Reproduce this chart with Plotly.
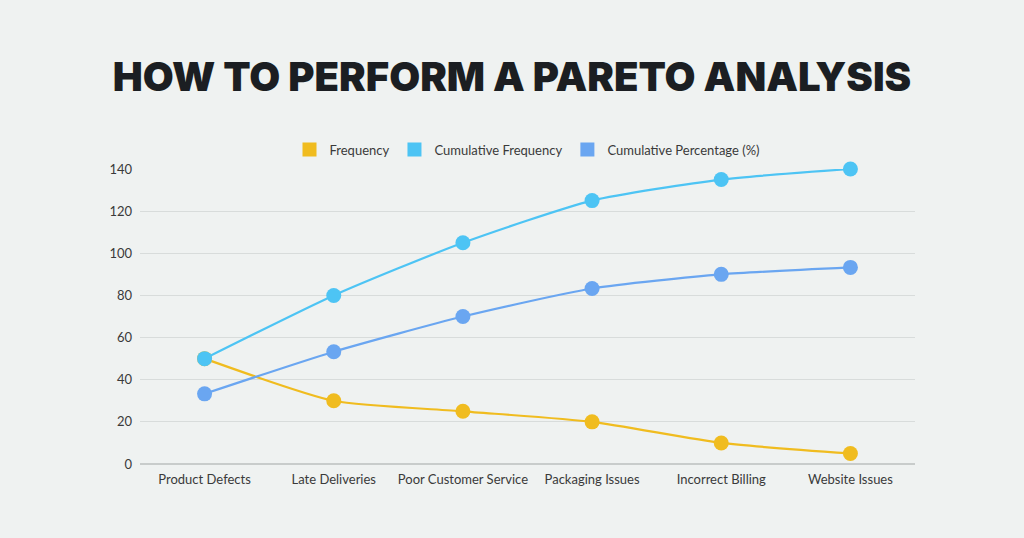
import plotly.graph_objects as go

categories = ["Product Defects", "Late Deliveries", "Poor Customer Service",
              "Packaging Issues", "Incorrect Billing", "Website Issues"]
frequency = [50, 30, 25, 20, 10, 5]
cumulative_frequency = [50, 80, 105, 125, 135, 140]
cumulative_percentage = [33.3, 53.3, 70, 83.3, 90, 93.3]
y_ticks = [0, 20, 40, 60, 80, 100, 120, 140]

series = [
    ("Frequency", frequency, "#F0BC1F"),
    ("Cumulative Frequency", cumulative_frequency, "#4DC4F4"),
    ("Cumulative Percentage (%)", cumulative_percentage, "#6AA6F1"),
]

fig = go.Figure()
for name, vals, color in series:
    fig.add_trace(go.Scatter(
        x=categories, y=vals, mode="lines+markers", name=name,
        line=dict(color=color, width=2.2, shape="spline", smoothing=0.6),
        marker=dict(color=color, size=15),
        showlegend=False, cliponaxis=False,
    ))
for name, vals, color in series:
    fig.add_trace(go.Scatter(
        x=[None], y=[None], mode="markers", name=name,
        marker=dict(color=color, size=14, symbol="square"),
        showlegend=True,
    ))

fig.update_layout(
    width=1024, height=538,
    paper_bgcolor="#EFF2F1", plot_bgcolor="#EFF2F1",
    margin=dict(l=140, r=109, t=169, b=74),
    title=dict(text="HOW TO PERFORM A PARETO ANALYSIS", x=0.5, xanchor="center",
               y=0.857, yanchor="middle",
               font=dict(family="Inter", size=40, color="#1B1E22", weight=900)),
    legend=dict(orientation="h", x=0.5, xanchor="center", y=1.015, yanchor="bottom",
                font=dict(family="Lato", size=13, color="#3A3A3A"),
                itemwidth=30, bgcolor="rgba(0,0,0,0)"),
    font=dict(family="Lato", size=13, color="#3A3A3A"),
)
fig.update_xaxes(range=[-0.5, 5.5], showgrid=False, showline=False,
                 ticks="", ticklabelstandoff=6,
                 tickfont=dict(size=13, color="#3A3A3A"))
fig.update_yaxes(range=[0, 140], tickvals=y_ticks, showgrid=True,
                 gridcolor="#D8DCDB", gridwidth=1, zeroline=True,
                 zerolinecolor="#C8CCCB", zerolinewidth=2,
                 ticks="", ticklabelstandoff=7,
                 tickfont=dict(size=13, color="#3A3A3A"))

fig.write_html(
    "out.html",
    config={"displayModeBar": False},
    post_script="document.body.style.margin='0';document.body.style.overflow='hidden';"
                "document.body.style.background='#EFF2F1';",
)
